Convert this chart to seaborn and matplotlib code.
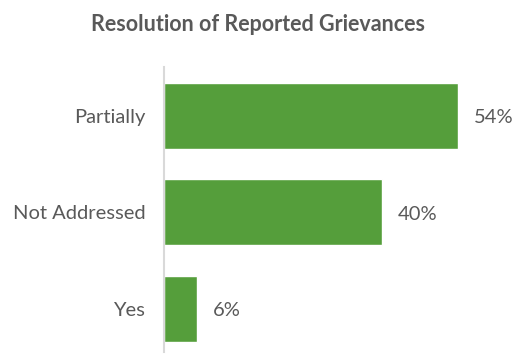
import pandas as pd
import matplotlib.pyplot as plt
import seaborn as sns

categories = ['Partially', 'Not Addressed', 'Yes']
values = [54, 40, 6]
labels = ['54%', '40%', '6%']

df = pd.DataFrame({'category': categories, 'value': values})

sns.set_style('white')
plt.rcParams['font.family'] = ['Lato', 'DejaVu Sans']

fig = plt.figure(figsize=(5.13, 3.56), dpi=100)
ax = fig.add_axes([0.3197, 0.0112, 0.6373, 0.8006])

sns.barplot(data=df, x='value', y='category', orient='h', color='#559E3B',
            saturation=1, width=0.684, ax=ax)

# value labels next to each bar
for i, (v, lab) in enumerate(zip(values, labels)):
    ax.text(v + 2.9, i + 0.02, lab, va='center', ha='left', fontsize=14.5, color='#595959')

ax.set_xlim(0, 60)
ax.set_ylim(2.446, -0.508)
ax.set_xlabel('')
ax.set_ylabel('')
ax.set_xticks([])
ax.tick_params(axis='y', length=0, pad=13.5, labelsize=14.5, labelcolor='#595959')

for s in ['top', 'right', 'bottom']:
    ax.spines[s].set_visible(False)
ax.spines['left'].set_color('#D9D9D9')
ax.spines['left'].set_linewidth(1.5)

fig.text(0.503, 0.932, 'Resolution of Reported Grievances', ha='center', va='center',
         fontsize=15.5, fontweight='bold', color='#595959')

fig.savefig('out.png', dpi=100)
